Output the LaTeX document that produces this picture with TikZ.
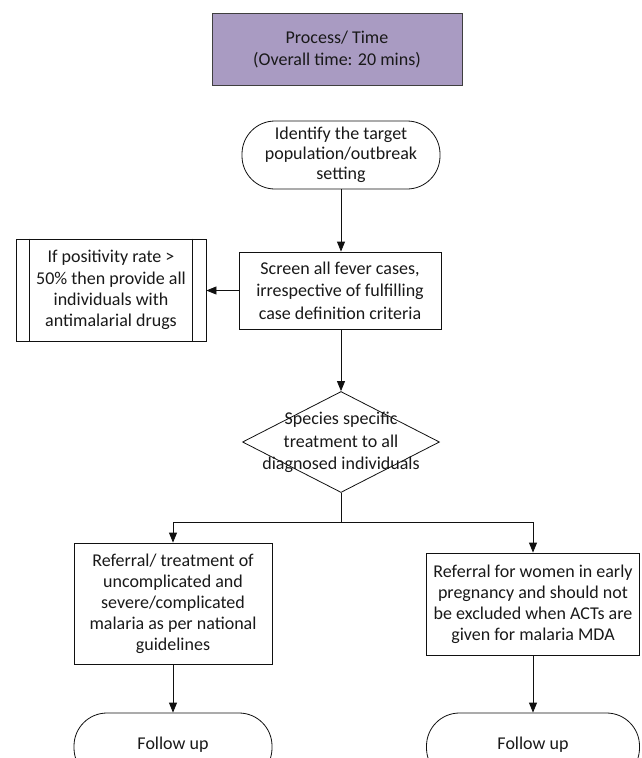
\documentclass[tikz,border=0pt]{standalone}
\usepackage{fontspec}
\setmainfont{Carlito}
\usetikzlibrary{arrows.meta,shapes.geometric}
\definecolor{titlefill}{HTML}{A99BC2}
\definecolor{titleline}{HTML}{3F3F3F}
\definecolor{lineclr}{HTML}{111111}
\begin{document}
\begin{tikzpicture}[x=1pt,y=-1pt,
  every node/.style={font=\fontsize{18}{21.5}\selectfont, align=center, inner sep=0pt, text=black!90},
  box/.style={draw=lineclr, line width=0.8pt, rectangle, fill=white},
  term/.style={draw=lineclr, line width=0.8pt, rectangle, rounded corners=33pt, fill=white},
  dec/.style={draw=lineclr, line width=0.8pt, diamond, fill=white},
  arr/.style={-{Triangle[length=10pt,width=8pt]}, line width=0.8pt, draw=lineclr},
  conn/.style={line width=0.8pt, draw=lineclr}]
\useasboundingbox (0,0) rectangle (641,758);
\clip (0,0) rectangle (641,758);

\node[draw=titleline, line width=0.9pt, fill=titlefill, minimum width=250pt, minimum height=72pt, font=\fontsize{18}{22}\selectfont] (title) at (337,49) {Process/ Time\\(Overall time: 20 mins)};

\node[term, minimum width=198pt, minimum height=68pt, font=\fontsize{18}{20}\selectfont] (start) at (341,155) {Identify the target\\population/outbreak\\setting};

\node[box, minimum width=202pt, minimum height=77pt, font=\fontsize{18}{22.5}\selectfont] (screen) at (340,290.5) {Screen all fever cases,\\irrespective of fulfilling\\case definition criteria};

\node[box, minimum width=190pt, minimum height=102pt, font=\fontsize{18}{21.3}\selectfont] (lb) at (111,290) {If positivity rate >\\50\% then provide all\\individuals with\\antimalarial drugs};
\draw[conn] ([xshift=14pt]lb.north west) -- ([xshift=14pt]lb.south west);
\draw[conn] ([xshift=-14pt]lb.north east) -- ([xshift=-14pt]lb.south east);

\node[dec, minimum width=197pt, minimum height=101pt] (d) at (341,442) {};
\node[font=\fontsize{18}{22.5}\selectfont] (dtext) at (341,442.5) {Species specific\\treatment to all\\diagnosed individuals};

\node[box, minimum width=198pt, minimum height=121pt, font=\fontsize{18}{21}\selectfont] (rl) at (173,603.5) {Referral/ treatment of\\uncomplicated and\\severe/complicated\\malaria as per national\\guidelines};

\node[box, minimum width=213pt, minimum height=102pt, font=\fontsize{18}{21}\selectfont] (rr) at (533,604) {Referral for women in early\\pregnancy and should not\\be excluded when ACTs are\\given for malaria MDA};

\node[term, minimum width=198pt, minimum height=68pt] (f1) at (173,747) {\raisebox{7pt}{Follow up}};
\node[term, minimum width=213pt, minimum height=68pt] (f2) at (533,747) {\raisebox{7pt}{Follow up}};

\coordinate (j) at (341,522);

\draw[arr] (start.south) -- (start.south |- screen.north);
\draw[arr] (screen.west) -- (screen.west -| lb.east);
\draw[arr] (start.south |- screen.south) -- (d.north);
\draw[conn] (d.south) -- (j);
\draw[arr] (j) -| (rl.north);
\draw[arr] (j) -| (rr.north);
\draw[arr] (rl.south) -- (f1.north);
\draw[arr] (rr.south) -- (f2.north);
\end{tikzpicture}
\end{document}
